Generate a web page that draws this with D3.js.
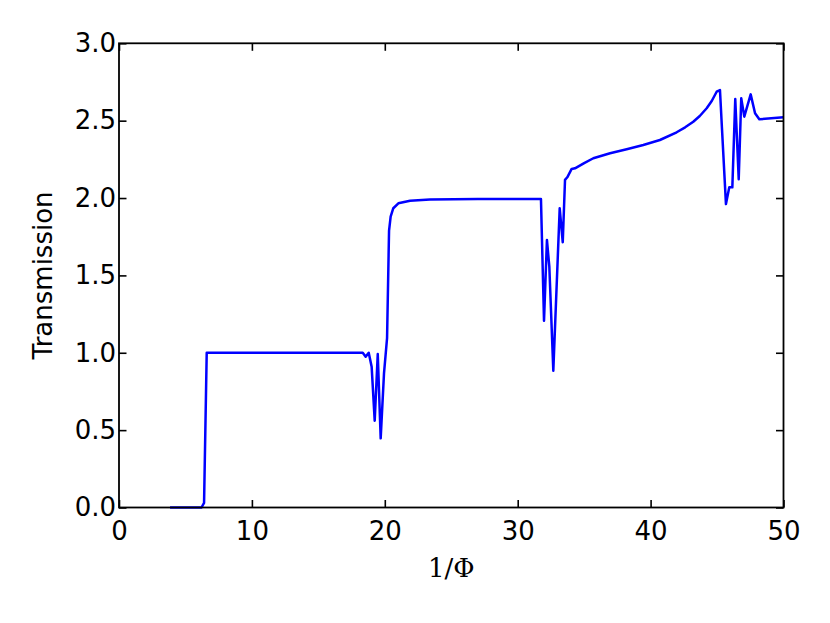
<!DOCTYPE html>
<html>
<head>
<meta charset="utf-8">
<script src="https://cdn.jsdelivr.net/npm/d3@7"></script>
<style>
  body { margin: 0; background: #fff; }
  .tick text { font-family: "DejaVu Sans", sans-serif; font-size: 26px; fill: #000; }
</style>
</head>
<body>
<svg id="chart" width="830" height="623"></svg>
<script>
// values
var phiInv = [3.84, 6.21, 6.4, 6.6, 7.2, 10, 14, 18.34, 18.56, 18.79, 19.01, 19.24, 19.47, 19.69, 19.94,
  20.17, 20.32, 20.44, 20.64, 21.02, 21.9, 23.4, 27, 31.75, 31.98, 32.2, 32.38, 32.68, 33.16, 33.39,
  33.56, 33.73, 34.06, 34.31, 35.0, 35.69, 36.95, 38.2, 39.45, 40.7, 41.96, 42.6, 43.21, 43.7, 44.22,
  44.6, 44.97, 45.22, 45.37, 45.67, 45.92, 46.15, 46.37, 46.63, 46.82, 47.05, 47.53, 47.86, 48.18, 50];
var transmission = [0, 0, 0.03, 1.0, 1.0, 1.0, 1.0, 1.0, 0.975, 1.0, 0.91, 0.561, 0.992, 0.447, 0.867,
  1.095, 1.79, 1.88, 1.934, 1.966, 1.983, 1.99, 1.993, 1.994, 1.207, 1.729, 1.556, 0.884, 1.934, 1.714,
  2.117, 2.134, 2.188, 2.192, 2.226, 2.257, 2.289, 2.315, 2.343, 2.375, 2.425, 2.457, 2.493, 2.53, 2.58,
  2.627, 2.687, 2.698, 2.45, 1.961, 2.069, 2.069, 2.64, 2.121, 2.645, 2.526, 2.67, 2.548, 2.509, 2.522];
var xTicks = [0, 10, 20, 30, 40, 50];
var yTicks = [0, 0.5, 1.0, 1.5, 2.0, 2.5, 3.0];

var svg = d3.select("#chart"),
  margin = { top: 43.3, right: 46.5, bottom: 115.5, left: 119 },
  width = svg.attr("width") - margin.left - margin.right,
  height = svg.attr("height") - margin.top - margin.bottom,
  g = svg.append("g").attr("transform", "translate(" + margin.left + "," + margin.top + ")");

var x = d3.scaleLinear().domain([0, 50]).range([0, width]),
  y = d3.scaleLinear().domain([0, 3]).range([height, 0]);

var data = phiInv.map(function(v, i) { return { x: v, t: transmission[i] }; });

var line = d3.line()
  .x(function(d) { return x(d.x); })
  .y(function(d) { return y(d.t); });

g.append("path")
  .datum(data)
  .attr("d", line)
  .attr("fill", "none")
  .attr("stroke", "#0000ff")
  .attr("stroke-width", 2.5)
  .attr("stroke-linejoin", "round");

var tl = 7.5;
function style(sel) {
  sel.select(".domain").remove();
  sel.selectAll(".tick line").attr("stroke", "#000").attr("stroke-width", 1.6);
}

g.append("g")
  .attr("transform", "translate(0," + height + ")")
  .call(d3.axisBottom(x).tickValues(xTicks).tickSizeInner(-tl).tickSizeOuter(0).tickPadding(14)
    .tickFormat(d3.format("d")))
  .call(style);
g.append("g")
  .call(d3.axisTop(x).tickValues(xTicks).tickSizeInner(-tl).tickSizeOuter(0).tickFormat(""))
  .call(style);
g.append("g")
  .call(d3.axisLeft(y).tickValues(yTicks).tickSizeInner(-tl).tickSizeOuter(0).tickPadding(3)
    .tickFormat(d3.format(".1f")))
  .call(style);
g.append("g")
  .attr("transform", "translate(" + width + ",0)")
  .call(d3.axisRight(y).tickValues(yTicks).tickSizeInner(-tl).tickSizeOuter(0).tickFormat(""))
  .call(style);

g.append("rect")
  .attr("width", width).attr("height", height)
  .attr("fill", "none").attr("stroke", "#000").attr("stroke-width", 1.8);

svg.append("text")
  .attr("transform", "translate(52," + (margin.top + height / 2) + ") rotate(-90)")
  .attr("text-anchor", "middle")
  .style("font-family", "DejaVu Sans, sans-serif")
  .style("font-size", "26px")
  .text("Transmission");

svg.append("text")
  .attr("x", margin.left + width / 2)
  .attr("y", 577)
  .attr("text-anchor", "middle")
  .style("font-family", "DejaVu Serif, serif")
  .style("font-size", "26px")
  .text("1/Φ");
</script>
</body>
</html>
